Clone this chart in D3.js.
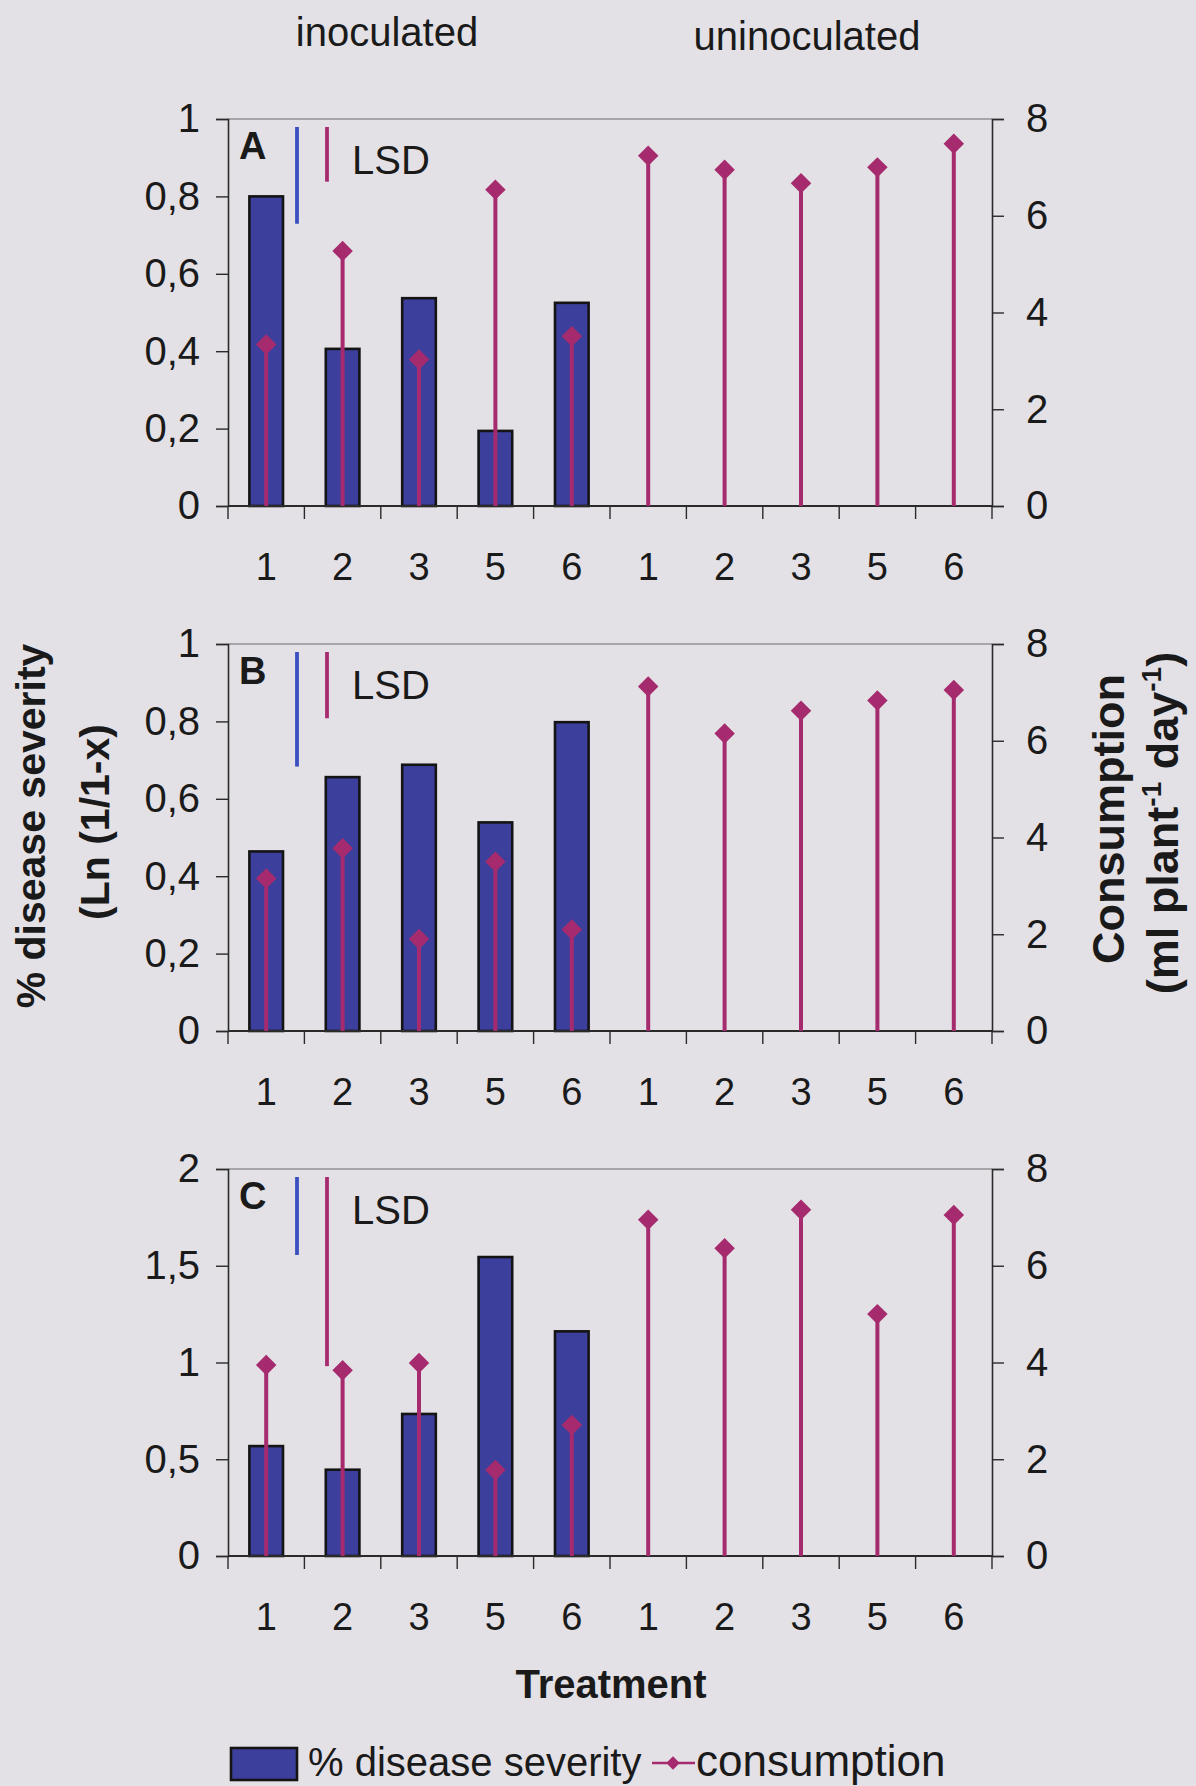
<!DOCTYPE html>
<html>
<head>
<meta charset="utf-8">
<script src="https://cdn.jsdelivr.net/npm/d3@7"></script>
<style>
  html, body { margin: 0; padding: 0; background: #e3e1e6; }
  svg { display: block; }
  text { font-family: "Liberation Sans", Arial, sans-serif; fill: #1a1a1a; }
</style>
</head>
<body>
<div id="chart"></div>
<script>
// Treatment categories (inoculated 1,2,3,5,6 then uninoculated 1,2,3,5,6)
const treatments = ["1", "2", "3", "5", "6", "1", "2", "3", "5", "6"];
const groupLabels = ["inoculated", "uninoculated"];

// % disease severity, Ln(1/1-x) — inoculated plants only
const severityA = [0.80, 0.406, 0.537, 0.194, 0.525];
const severityB = [0.464, 0.656, 0.688, 0.539, 0.798];
const severityC = [0.568, 0.446, 0.734, 1.545, 1.161];

// consumption, ml plant-1 day-1 — all ten treatments
const consumptionA = [3.34, 5.27, 3.03, 6.54, 3.51, 7.24, 6.95, 6.67, 7.00, 7.49];
const consumptionB = [3.15, 3.78, 1.90, 3.50, 2.10, 7.12, 6.15, 6.62, 6.83, 7.05];
const consumptionC = [3.95, 3.84, 3.99, 1.78, 2.71, 6.95, 6.36, 7.16, 5.00, 7.05];

// least significant differences (severity, consumption)
const lsdSeverity = [0.25, 0.296, 0.403];
const lsdConsumption = [1.13, 1.37, 3.91];

// axis ticks
const severityTicksAB = [0, 0.2, 0.4, 0.6, 0.8, 1];
const severityTicksC = [0, 0.5, 1, 1.5, 2];
const consumptionTicks = [0, 2, 4, 6, 8];

const panelLetters = ["A", "B", "C"];

const W = 1196, H = 1786;
const BLUE = "#3d3f9c";
const MAGENTA = "#a62b6e";
const AXIS = "#2a2a2a";

const left = 228, right = 992;
const panelTops = [119, 644, 1169];
const plotH = 387;

const fmt = d3.formatLocale({ decimal: ",", thousands: ".", grouping: [3], currency: ["", ""] }).format("~g");

const panels = [
  { severity: severityA, consumption: consumptionA, sevTicks: severityTicksAB, sevMax: 1 },
  { severity: severityB, consumption: consumptionB, sevTicks: severityTicksAB, sevMax: 1 },
  { severity: severityC, consumption: consumptionC, sevTicks: severityTicksC, sevMax: 2 }
].map((p, i) => Object.assign(p, {
  letter: panelLetters[i], top: panelTops[i],
  lsdSev: lsdSeverity[i], lsdCons: lsdConsumption[i]
}));

const svg = d3.select("#chart").append("svg")
  .attr("width", W).attr("height", H)
  .attr("viewBox", `0 0 ${W} ${H}`);

svg.append("rect").attr("width", W).attr("height", H).attr("fill", "#e3e1e6");

const x = d3.scaleBand().domain(d3.range(treatments.length)).range([left, right]).padding(0);
const barW = x.bandwidth() * 0.44;

// group headings above the top panel
svg.append("text").attr("x", 387).attr("y", 46).attr("text-anchor", "middle")
  .attr("font-size", 40).text(groupLabels[0]);
svg.append("text").attr("x", 807).attr("y", 50).attr("text-anchor", "middle")
  .attr("font-size", 40).text(groupLabels[1]);

panels.forEach(p => {
  const top = p.top, bottom = p.top + plotH;
  const yS = d3.scaleLinear().domain([0, p.sevMax]).range([bottom, top]);
  const yC = d3.scaleLinear().domain([0, 8]).range([bottom, top]);
  const g = svg.append("g");

  // frame top line
  g.append("line").attr("x1", left).attr("x2", right).attr("y1", top).attr("y2", top)
    .attr("stroke", "#6a6a6a").attr("stroke-width", 1.2);

  // left axis
  const la = g.append("g").attr("transform", `translate(${left},0)`)
    .call(d3.axisLeft(yS).tickValues(p.sevTicks).tickFormat(fmt).tickSize(12).tickPadding(16));
  la.select(".domain").attr("stroke", AXIS).attr("stroke-width", 1.6);
  la.selectAll(".tick line").attr("stroke", AXIS).attr("stroke-width", 1.4);
  la.selectAll(".tick text").attr("font-size", 40).attr("fill", "#1a1a1a")
    .attr("font-family", "Liberation Sans, Arial, sans-serif");

  // right axis
  const ra = g.append("g").attr("transform", `translate(${right},0)`)
    .call(d3.axisRight(yC).tickValues(consumptionTicks).tickFormat(fmt).tickSize(12).tickPadding(22));
  ra.select(".domain").attr("stroke", AXIS).attr("stroke-width", 1.6);
  ra.selectAll(".tick line").attr("stroke", AXIS).attr("stroke-width", 1.4);
  ra.selectAll(".tick text").attr("font-size", 40).attr("fill", "#1a1a1a")
    .attr("font-family", "Liberation Sans, Arial, sans-serif");

  // bars: disease severity (inoculated)
  g.selectAll("rect.bar").data(p.severity).join("rect")
    .attr("class", "bar")
    .attr("x", (d, i) => x(i) + (x.bandwidth() - barW) / 2)
    .attr("y", d => yS(d))
    .attr("width", barW)
    .attr("height", d => yS(0) - yS(d))
    .attr("fill", BLUE).attr("stroke", "#141414").attr("stroke-width", 2.6);

  // bottom axis with ticks at category boundaries
  g.append("line").attr("x1", left).attr("x2", right).attr("y1", bottom).attr("y2", bottom)
    .attr("stroke", AXIS).attr("stroke-width", 1.8);
  const bounds = d3.range(treatments.length + 1).map(i => left + i * x.bandwidth());
  g.selectAll("line.xtick").data(bounds).join("line").attr("class", "xtick")
    .attr("x1", d => d).attr("x2", d => d).attr("y1", bottom).attr("y2", bottom + 13)
    .attr("stroke", AXIS).attr("stroke-width", 1.4);
  g.selectAll("text.xlab").data(treatments).join("text").attr("class", "xlab")
    .attr("x", (d, i) => x(i) + x.bandwidth() / 2).attr("y", bottom + 74)
    .attr("text-anchor", "middle").attr("font-size", 38).text(d => d);

  // consumption: stems from zero with diamond markers
  g.selectAll("line.stem").data(p.consumption).join("line").attr("class", "stem")
    .attr("x1", (d, i) => x(i) + x.bandwidth() / 2).attr("x2", (d, i) => x(i) + x.bandwidth() / 2)
    .attr("y1", yC(0)).attr("y2", d => yC(d))
    .attr("stroke", MAGENTA).attr("stroke-width", 4);
  const diamond = d3.symbol(d3.symbolSquare, 210);
  g.selectAll("path.mk").data(p.consumption).join("path").attr("class", "mk")
    .attr("d", diamond)
    .attr("transform", (d, i) => `translate(${x(i) + x.bandwidth() / 2},${yC(d)}) rotate(45)`)
    .attr("fill", MAGENTA);

  // panel letter and LSD bars
  g.append("text").attr("x", 239).attr("y", top + 40).attr("font-size", 38)
    .attr("font-weight", "bold").text(p.letter);
  const lsdTop = top + 8;
  g.append("line").attr("x1", 297).attr("x2", 297)
    .attr("y1", lsdTop).attr("y2", lsdTop + (yS(0) - yS(p.lsdSev)))
    .attr("stroke", "#3a4fc0").attr("stroke-width", 3.8);
  g.append("line").attr("x1", 327).attr("x2", 327)
    .attr("y1", lsdTop).attr("y2", lsdTop + (yC(0) - yC(p.lsdCons)))
    .attr("stroke", MAGENTA).attr("stroke-width", 3.8);
  g.append("text").attr("x", 352).attr("y", top + 55).attr("font-size", 40).text("LSD");
});

// left axis title
svg.append("text").attr("transform", "translate(45,826) rotate(-90)")
  .attr("text-anchor", "middle").attr("font-size", 41).attr("font-weight", "bold")
  .text("% disease severity");
svg.append("text").attr("transform", "translate(109,822) rotate(-90)")
  .attr("text-anchor", "middle").attr("font-size", 41).attr("font-weight", "bold")
  .text("(Ln (1/1-x)");

// right axis title
svg.append("text").attr("transform", "translate(1124,819) rotate(-90)")
  .attr("text-anchor", "middle").attr("font-size", 45).attr("font-weight", "bold")
  .text("Consumption");
const rt = svg.append("text").attr("transform", "translate(1178,823) rotate(-90)")
  .attr("text-anchor", "middle").attr("font-size", 45).attr("font-weight", "bold");
rt.append("tspan").text("(ml plant");
rt.append("tspan").attr("font-size", 28).attr("dy", -17).text("-1");
rt.append("tspan").attr("dy", 17).text(" day");
rt.append("tspan").attr("font-size", 28).attr("dy", -17).text("-1");
rt.append("tspan").attr("dy", 17).text(")");

// x axis title
svg.append("text").attr("x", 611).attr("y", 1698).attr("text-anchor", "middle")
  .attr("font-size", 40).attr("font-weight", "bold").text("Treatment");

// legend
const lg = svg.append("g");
lg.append("rect").attr("x", 231).attr("y", 1748).attr("width", 66).attr("height", 32)
  .attr("fill", BLUE).attr("stroke", "#141414").attr("stroke-width", 2.6);
lg.append("text").attr("x", 308).attr("y", 1776).attr("font-size", 40).text("% disease severity");
lg.append("line").attr("x1", 652).attr("x2", 695).attr("y1", 1763).attr("y2", 1763)
  .attr("stroke", MAGENTA).attr("stroke-width", 2.6);
lg.append("path").attr("d", d3.symbol(d3.symbolSquare, 90))
  .attr("transform", "translate(673,1763) rotate(45)").attr("fill", MAGENTA);
lg.append("text").attr("x", 696).attr("y", 1776).attr("font-size", 44).text("consumption");
</script>
</body>
</html>
